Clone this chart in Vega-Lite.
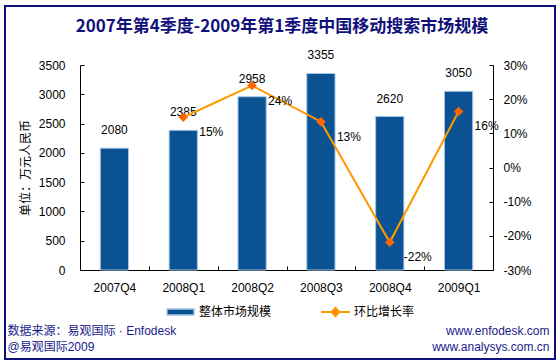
{
  "$schema": "https://vega.github.io/schema/vega-lite/v6.json",
  "width": 550,
  "height": 353,
  "autosize": {"type": "none"},
  "padding": {"left": 5, "top": 6, "right": 5, "bottom": 2},
  "config": {
    "locale": {"number": {"decimal": ".", "thousands": ",", "grouping": [3], "currency": ["", ""], "minus": "-"}},
    "view": {"stroke": "#10107a", "strokeWidth": 2},
    "font": "Liberation Sans",
    "axis": {"labelFont": "Liberation Sans", "labelFontSize": 12, "labelColor": "#000000", "domainColor": "#000000", "tickColor": "#000000", "grid": false}
  },
  "title": {
    "text": "2007年第4季度-2009年第1季度中国移动搜索市场规模",
    "font": "Noto Sans CJK SC",
    "fontSize": 17,
    "fontWeight": "bold",
    "color": "#10107a",
    "anchor": "middle",
    "frame": "group",
    "offset": -30,
    "dx": 2
  },
  "data": {
    "values": [
      {"quarter": "2007Q4", "scale": 2080, "rate": null},
      {"quarter": "2008Q1", "scale": 2385, "rate": 0.147},
      {"quarter": "2008Q2", "scale": 2958, "rate": 0.24},
      {"quarter": "2008Q3", "scale": 3355, "rate": 0.134},
      {"quarter": "2008Q4", "scale": 2620, "rate": -0.219},
      {"quarter": "2009Q1", "scale": 3050, "rate": 0.164}
    ]
  },
  "encoding": {
    "x": {
      "field": "quarter",
      "type": "nominal",
      "sort": null,
      "scale": {"range": [75, 488], "paddingInner": 0, "paddingOuter": 0},
      "axis": {
        "orient": "bottom",
        "offset": -89,
        "tickBand": "extent",
        "tickSize": -4,
        "labelPadding": 16,
        "labelAngle": 0,
        "title": ["数据来源：易观国际 · Enfodesk", "@易观国际2009"],
        "titleFont": "Liberation Sans, Noto Sans CJK SC",
        "titleFontSize": 12,
        "titleFontWeight": "normal",
        "titleColor": "#1a1a8c",
        "titleAlign": "left",
        "titleBaseline": "alphabetic",
        "titleAngle": 0,
        "titleX": 2,
        "titleY": 64,
        "titleLineHeight": 16
      }
    }
  },
  "layer": [
    {
      "layer": [
        {
          "mark": {"type": "bar", "width": {"band": 0.41}, "stroke": "#a4c6e8", "strokeWidth": 1},
          "encoding": {
            "y": {
              "field": "scale",
              "type": "quantitative",
              "scale": {"domain": [0, 3500], "range": [264, 59], "nice": false},
              "axis": {
                "orient": "left",
                "offset": -75,
                "tickSize": -4,
                "labelPadding": 19,
                "format": "d",
                "values": [0, 500, 1000, 1500, 2000, 2500, 3000, 3500],
                "title": "单位：万元人民币",
                "titleFont": "Noto Sans CJK SC",
                "titleFontSize": 12,
                "titleFontWeight": "normal",
                "titleColor": "#000000",
                "titleAngle": -90,
                "titleAlign": "center",
                "titleBaseline": "middle",
                "titleX": -55,
                "titleY": 161.5
              }
            },
            "fill": {
              "datum": "整体市场规模",
              "type": "nominal",
              "scale": {"range": ["#0a5292"]},
              "legend": {
                "orient": "none",
                "legendX": 161,
                "legendY": 291.5,
                "title": null,
                "padding": 0,
                "symbolType": "M-1,-0.22H1V0.22H-1Z",
                "symbolSize": 729,
                "labelFont": "Noto Sans CJK SC",
                "labelFontSize": 12,
                "labelColor": "#000000",
                "labelOffset": 4
              }
            }
          }
        },
        {
          "mark": {"type": "text", "baseline": "bottom", "dy": -11, "fontSize": 12, "color": "#000000"},
          "encoding": {
            "y": {"field": "scale", "type": "quantitative"},
            "text": {"field": "scale", "type": "quantitative", "format": "d"}
          }
        }
      ]
    },
    {
      "layer": [
        {
          "mark": {"type": "line", "strokeWidth": 2},
          "encoding": {
            "y": {
              "field": "rate",
              "type": "quantitative",
              "scale": {"domain": [-0.3, 0.3], "range": [264, 59], "nice": false},
              "axis": {
                "orient": "right",
                "offset": -62,
                "tickSize": -4,
                "labelPadding": 14,
                "format": ".0%",
                "values": [-0.3, -0.2, -0.1, 0, 0.1, 0.2, 0.3],
                "title": ["www.enfodesk.com", "www.analysys.com.cn"],
                "titleFont": "Liberation Sans",
                "titleFontSize": 12,
                "titleFontWeight": "normal",
                "titleColor": "#1a1a8c",
                "titleAngle": 0,
                "titleAlign": "right",
                "titleBaseline": "alphabetic",
                "titleX": 56,
                "titleY": 328,
                "titleLineHeight": 16
              }
            },
            "stroke": {
              "datum": "环比增长率",
              "type": "nominal",
              "scale": {"range": ["#ff9900"]},
              "legend": {
                "orient": "none",
                "legendX": 315,
                "legendY": 290.5,
                "title": null,
                "padding": 0,
                "symbolType": "M-1,0H1M0,-0.28L0.28,0L0,0.28L-0.28,0Z",
                "symbolSize": 841,
                "symbolStrokeWidth": 2,
                "symbolFillColor": "#ff6600",
                "labelFont": "Noto Sans CJK SC",
                "labelFontSize": 12,
                "labelColor": "#000000",
                "labelOffset": 3
              }
            }
          }
        },
        {
          "mark": {"type": "point", "shape": "diamond", "filled": true, "size": 90, "color": "#ff6600", "opacity": 1},
          "encoding": {
            "y": {"field": "rate", "type": "quantitative"}
          }
        },
        {
          "mark": {"type": "text", "align": "center", "baseline": "middle", "dx": 28, "dy": 15, "fontSize": 12, "color": "#000000"},
          "encoding": {
            "y": {"field": "rate", "type": "quantitative"},
            "text": {"field": "rate", "type": "quantitative", "format": ".0%"}
          }
        }
      ]
    }
  ],
  "resolve": {"scale": {"y": "independent"}}
}
